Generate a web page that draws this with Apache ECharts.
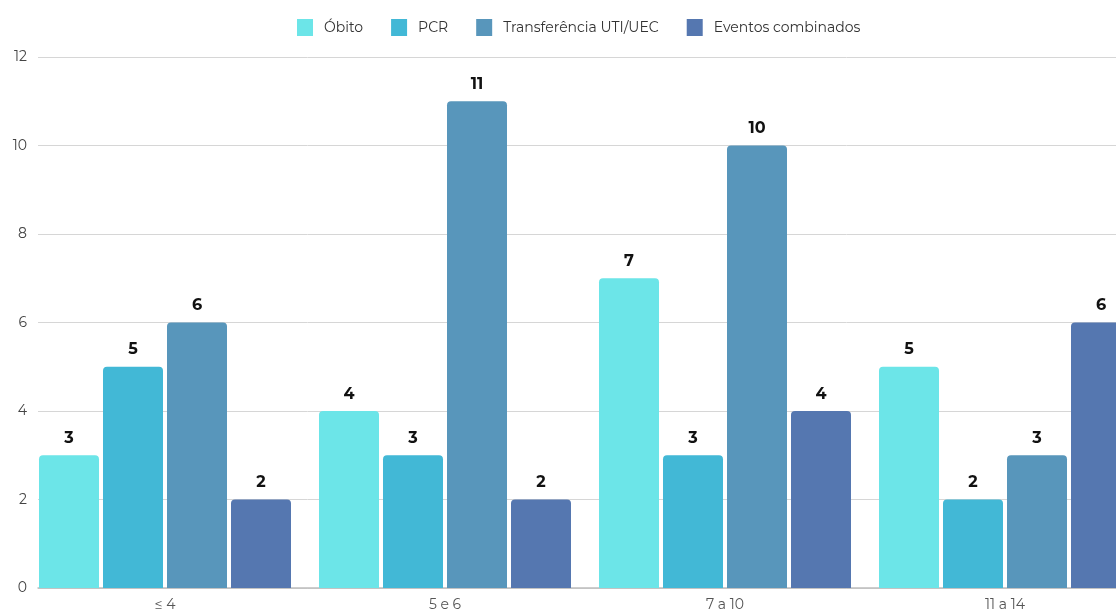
<!DOCTYPE html>
<html>
<head>
<meta charset="utf-8">
<script src="https://cdn.jsdelivr.net/npm/echarts@6/dist/echarts.min.js"></script>
<style>
  html, body { margin: 0; padding: 0; background: #ffffff; }
  #chart { width: 1116px; height: 612px; }
</style>
</head>
<body>
<div id="chart"></div>
<script>
// Age groups on the x axis
const categories = ['≤ 4', '5 e 6', '7 a 10', '11 a 14'];

// Event counts per age group
const obito = [3, 4, 7, 5];
const pcr = [5, 3, 3, 2];
const transferencia = [6, 11, 10, 3];
const eventosCombinados = [2, 2, 4, 6];

const seriesNames = ['Óbito', 'PCR', 'Transferência UTI/UEC', 'Eventos combinados'];
const seriesData = [obito, pcr, transferencia, eventosCombinados];
const colors = ['#6ce5e8', '#42b8d6', '#5896bb', '#5577b0'];

const yTicks = { min: 0, max: 12, interval: 2 };
const fontFamily = 'Montserrat, Lato, "Noto Sans", sans-serif';

const chart = echarts.init(document.getElementById('chart'));

chart.setOption({
  animation: false,
  color: colors,
  textStyle: { fontFamily: fontFamily },
  legend: {
    top: 14,
    left: 292,
    itemWidth: 16,
    itemHeight: 17,
    itemGap: 28,
    icon: 'rect',
    textStyle: { fontSize: 14, color: '#333', fontFamily: fontFamily, padding: [0, 0, 0, 6] },
    data: seriesNames
  },
  grid: [
    // bars and category labels; the last group runs past the right edge
    { left: 25, top: 57, width: 1120, height: 531, outerBoundsMode: 'none', containLabel: false },
    // value axis, grid lines and baseline
    { left: 38, top: 57, right: 0, height: 531, outerBoundsMode: 'none', containLabel: false }
  ],
  xAxis: [
    {
      type: 'category',
      gridIndex: 0,
      data: categories,
      axisLine: { show: false },
      axisTick: { show: false },
      axisLabel: { fontSize: 14, color: '#555', margin: 10, fontFamily: fontFamily }
    },
    {
      type: 'category',
      gridIndex: 1,
      data: categories,
      axisLine: { show: true, lineStyle: { color: '#bdbdbd', width: 1.5 } },
      axisTick: { show: false },
      axisLabel: { show: false }
    }
  ],
  yAxis: [
    {
      type: 'value',
      gridIndex: 0,
      min: yTicks.min, max: yTicks.max, interval: yTicks.interval,
      axisLabel: { show: false },
      axisLine: { show: false },
      axisTick: { show: false },
      splitLine: { show: false }
    },
    {
      type: 'value',
      gridIndex: 1,
      min: yTicks.min, max: yTicks.max, interval: yTicks.interval,
      axisLabel: { fontSize: 14, color: '#444', margin: 11, fontFamily: fontFamily },
      axisLine: { show: false },
      axisTick: { show: false },
      splitLine: { lineStyle: { color: '#d6d6d6', width: 1 } }
    }
  ],
  series: seriesData.map((values, i) => ({
    name: seriesNames[i],
    type: 'bar',
    xAxisIndex: 0,
    yAxisIndex: 0,
    data: values,
    barWidth: 60,
    barGap: '6.67%',
    itemStyle: {
      color: colors[i],
      borderRadius: [4, 4, 0, 0]
    },
    label: {
      show: true,
      position: 'top',
      distance: 9,
      fontSize: 16,
      fontWeight: 'bold',
      color: '#111',
      fontFamily: fontFamily
    }
  }))
});
</script>
</body>
</html>
